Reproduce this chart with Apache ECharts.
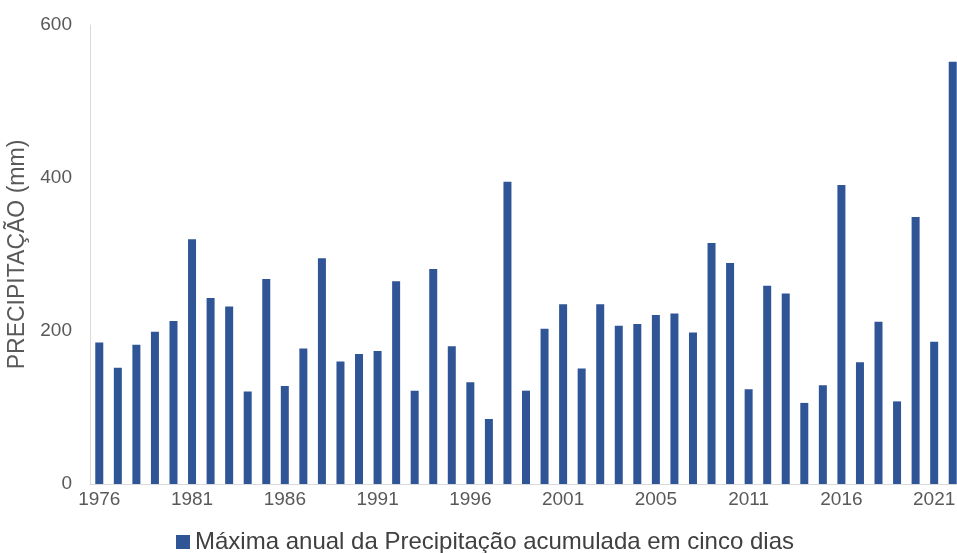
<!DOCTYPE html>
<html>
<head>
<meta charset="utf-8">
<script src="https://cdn.jsdelivr.net/npm/echarts@6/dist/echarts.min.js"></script>
<style>
  html, body {margin: 0; padding: 0; background: #fff;}
  #chart {width: 957px; height: 553px;}
</style>
</head>
<body>
<div id="chart"></div>
<script>
// anos 1976 - 2022
const years = [
  '1976', '1977', '1978', '1979', '1980', '1981', '1982', '1983', '1984', '1985',
  '1986', '1987', '1988', '1989', '1990', '1991', '1992', '1993', '1994', '1995',
  '1996', '1997', '1998', '1999', '2000', '2001', '2002', '2003', '2004', '2005',
  '2006', '2007', '2008', '2009', '2010', '2011', '2012', '2013', '2014', '2015',
  '2016', '2017', '2018', '2019', '2020', '2021', '2022'
]
// rotulos do eixo x (um a cada 5 anos, como no original)
const tickLabels = ['1976', '1981', '1986', '1991', '1996', '2001', '2005', '2011', '2016', '2021']
const yTicks = [0, 200, 400, 600]

// maxima anual da precipitacao acumulada em cinco dias (mm)
const rx5day = [
  185, 152, 182, 199, 213, 320, 243, 232, 121, 268,
  128, 177, 295, 160, 170, 174, 265, 122, 281, 180,
  133, 85, 395, 122, 203, 235, 151, 235, 207, 209,
  221, 223, 198, 315, 289, 124, 259, 249, 106, 129,
  391, 159, 212, 108, 349, 186, 552
]

const seriesName = 'Máxima anual da Precipitação acumulada em cinco dias'

const fontFamily = '"Liberation Sans", Arial, sans-serif'

let mychart = echarts.init(document.getElementById('chart'))
mychart.setOption({
  animation: false,
  color: ['#2F5597'],
  textStyle: {fontFamily: fontFamily},
  grid: {
    top: 25,
    bottom: 69,
    left: 90,
    right: -5,
    containLabel: false,
    outerBoundsMode: 'none'
  },
  legend: {
    bottom: -6,
    left: 171,
    icon: 'rect',
    itemWidth: 14,
    itemHeight: 14,
    itemGap: 10,
    textStyle: {
      color: '#404040',
      fontSize: 24,
      fontFamily: fontFamily
    },
    data: [seriesName]
  },
  xAxis: {
    type: 'category',
    data: years,
    axisLine: {
      show: true,
      lineStyle: {color: '#d9d9d9', width: 1}
    },
    axisTick: {show: false},
    axisLabel: {
      interval: 0,
      color: '#595959',
      fontSize: 19,
      margin: 6,
      formatter: (value, index) => index % 5 === 0 ? tickLabels[index / 5] : ''
    }
  },
  yAxis: {
    type: 'value',
    min: yTicks[0],
    max: yTicks[yTicks.length - 1],
    interval: 200,
    name: 'PRECIPITAÇÃO (mm)',
    nameLocation: 'middle',
    nameGap: 56,
    nameTextStyle: {
      color: '#595959',
      fontSize: 23,
      fontFamily: fontFamily
    },
    axisLine: {
      show: true,
      lineStyle: {color: '#d9d9d9', width: 1}
    },
    axisTick: {show: false},
    splitLine: {show: false},
    axisLabel: {
      color: '#595959',
      fontSize: 19,
      margin: 18
    }
  },
  series: [
    {
      name: seriesName,
      type: 'bar',
      barWidth: 8,
      data: rx5day
    }
  ]
})
</script>
</body>
</html>
